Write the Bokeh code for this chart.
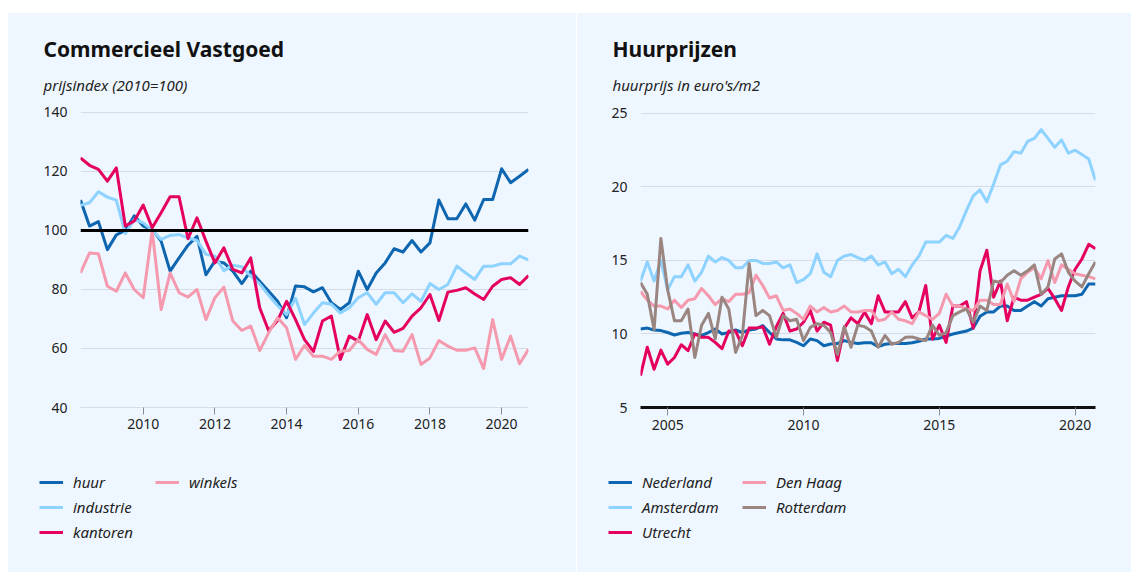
from bokeh.plotting import figure
from bokeh.models import Range1d, FixedTicker, Span, Label, Legend, LegendItem, Spacer
from bokeh.layouts import row, column
from bokeh.embed import file_html
from bokeh.resources import INLINE

BG = "#EEF7FF"
GRID = "#D5DCE4"
TXT = "#222222"
FONT = "Noto Sans"

# ---------------- Commercieel Vastgoed (quarterly, from 2008 Q2) ----------------
cv_start = (2008, 2)
huur = [110.3, 101.5, 103.0, 93.5, 98.5, 100.0, 105.0, 101.5, 100.3, 96.4,
        86.2, 90.7, 95.0, 98.0, 85.0, 89.6, 89.0, 86.2, 82.0, 86.2,
        82.8, 79.4, 76.0, 70.4, 81.2, 80.9, 79.2, 80.6, 75.5, 73.2,
        75.5, 86.2, 80.0, 85.6, 89.0, 93.8, 92.7, 96.6, 92.7, 95.8,
        110.3, 104.0, 104.0, 109.0, 103.5, 110.5, 110.5, 120.9, 116.2, 118.4,
        120.7]
industrie = [108.5, 109.4, 113.1, 111.3, 110.3, 98.9, 103.7, 102.6, 100.0, 97.0,
             98.3, 98.6, 97.5, 96.6, 91.9, 91.3, 86.4, 88.2, 87.7, 84.5,
             81.9, 78.0, 74.5, 71.5, 77.0, 68.1, 72.0, 75.5, 75.0, 72.0,
             73.8, 77.2, 78.9, 75.0, 78.9, 78.9, 75.5, 78.5, 76.0, 82.0,
             80.0, 81.7, 87.9, 85.6, 83.4, 87.9, 87.9, 88.7, 88.7, 91.3,
             90.0]
kantoren = [124.6, 122.1, 120.7, 116.7, 121.2, 101.5, 103.2, 108.6, 100.9, 106.0,
            111.4, 111.4, 97.2, 104.3, 96.4, 89.0, 94.1, 86.8, 85.6, 90.7,
            73.8, 66.0, 69.5, 76.0, 69.8, 63.0, 59.0, 69.3, 71.0, 56.3,
            64.2, 62.5, 71.5, 63.0, 69.3, 65.5, 66.8, 71.0, 73.8, 78.3,
            69.5, 79.1, 79.7, 80.6, 78.5, 76.6, 81.1, 83.4, 84.0, 81.7,
            84.7]
winkels = [85.6, 92.4, 92.1, 81.1, 79.4, 85.6, 80.0, 77.2, 100.0, 73.2,
           85.6, 78.9, 77.4, 80.0, 69.8, 77.2, 80.8, 69.3, 66.1, 67.6,
           59.3, 65.3, 70.4, 67.0, 56.3, 61.0, 57.4, 57.4, 56.3, 59.1,
           59.3, 63.0, 59.7, 58.0, 64.7, 59.3, 59.1, 64.7, 54.6, 56.8,
           62.7, 60.8, 59.4, 59.4, 60.2, 53.2, 69.8, 56.3, 64.2, 54.8,
           59.7]
cv_names = ["huur", "industrie", "kantoren", "winkels"]
cv_colors = ["#0E66B0", "#8ED2FF", "#E5005F", "#F59AAE"]
cv_yticks = [40, 60, 80, 100, 120, 140]
cv_xticks = [2010, 2012, 2014, 2016, 2018, 2020]

# ---------------- Huurprijzen (quarterly, from 2004 Q1) ----------------
hp_start = (2004, 1)
nederland = [10.34, 10.4, 10.27, 10.23, 10.1, 9.93, 10.05, 10.1, 10.0, 9.9,
             10.1, 10.34, 10.0, 10.1, 10.27, 10.1, 10.27, 10.34, 10.57, 10.1,
             9.66, 9.6, 9.6, 9.43, 9.2, 9.66, 9.55, 9.2, 9.32, 9.36,
             9.55, 9.43, 9.36, 9.4, 9.4, 9.14, 9.3, 9.36, 9.36, 9.36,
             9.4, 9.5, 9.66, 9.66, 9.7, 9.85, 10.0, 10.1, 10.2, 10.4,
             11.2, 11.5, 11.5, 11.9, 11.9, 11.6, 11.6, 11.9, 12.2, 11.9,
             12.4, 12.5, 12.6, 12.6, 12.6, 12.7, 13.4, 13.4]
amsterdam = [13.6, 14.9, 13.6, 15.0, 13.0, 13.9, 13.9, 14.7, 13.6, 14.2,
             15.3, 14.9, 15.2, 15.0, 14.5, 14.5, 15.0, 15.0, 14.8, 14.8,
             14.9, 14.5, 14.7, 13.5, 13.7, 14.1, 15.45, 14.2, 13.9, 15.0,
             15.3, 15.4, 15.2, 15.0, 15.3, 14.7, 14.9, 14.1, 14.4, 13.9,
             14.7, 15.3, 16.25, 16.25, 16.25, 16.7, 16.5, 17.3, 18.4, 19.4,
             19.8, 19.0, 20.2, 21.5, 21.75, 22.4, 22.3, 23.1, 23.3, 23.9,
             23.3, 22.7, 23.2, 22.3, 22.5, 22.2, 21.9, 20.45]
utrecht = [7.16, 9.1, 7.6, 8.9, 7.95, 8.4, 9.27, 8.86, 10.0, 9.77,
           9.77, 9.43, 9.0, 10.2, 10.2, 9.2, 10.4, 10.4, 10.5, 9.3,
           10.5, 11.4, 10.2, 10.34, 10.8, 11.6, 10.2, 10.8, 10.6, 8.2,
           10.4, 11.1, 10.7, 11.5, 10.7, 12.6, 11.5, 11.5, 11.5, 12.2,
           11.1, 11.5, 13.3, 9.66, 10.6, 9.43, 11.9, 11.9, 12.2, 10.4,
           14.3, 15.7, 12.5, 13.6, 10.9, 12.5, 12.3, 12.3, 12.5, 12.7,
           13.1, 12.4, 11.6, 13.2, 14.4, 15.1, 16.1, 15.8]
den_haag = [12.9, 12.3, 11.9, 11.9, 11.7, 12.3, 11.8, 12.3, 12.4, 13.1,
            12.6, 12.0, 12.4, 12.2, 12.7, 12.7, 12.8, 14.0, 13.3, 12.45,
            12.6, 11.6, 11.7, 11.4, 11.0, 11.9, 11.5, 11.8, 11.5, 11.6,
            11.9, 11.5, 11.5, 11.6, 11.6, 10.9, 11.0, 11.5, 11.0, 10.9,
            10.7, 11.5, 11.25, 11.0, 11.4, 12.7, 11.9, 11.9, 11.7, 11.6,
            12.3, 12.3, 12.0, 12.0, 13.4, 12.2, 13.75, 14.2, 14.5, 13.75,
            15.0, 13.5, 14.7, 14.4, 14.1, 14.0, 13.9, 13.75]
rotterdam = [13.5, 12.7, 10.3, 16.5, 13.0, 10.9, 10.9, 11.7, 8.4, 10.6,
             11.4, 9.66, 12.5, 11.7, 8.75, 9.9, 14.8, 11.25, 11.6, 11.25,
             9.77, 11.25, 10.9, 11.0, 9.55, 10.45, 10.7, 10.6, 10.1, 8.6,
             10.5, 9.1, 10.6, 10.5, 10.2, 9.1, 9.9, 9.3, 9.43, 9.77,
             9.8, 9.66, 9.55, 10.6, 9.9, 10.1, 11.25, 11.5, 11.7, 10.8,
             11.9, 11.6, 13.6, 13.5, 14.0, 14.3, 14.0, 14.3, 14.7, 12.7,
             13.2, 15.1, 15.45, 14.2, 13.6, 13.2, 14.1, 14.9]
hp_names = ["Nederland", "Amsterdam", "Utrecht", "Den Haag", "Rotterdam"]
hp_colors = ["#0E66B0", "#8ED2FF", "#E5005F", "#F59AAE", "#9A8580"]
hp_yticks = [5, 10, 15, 20, 25]
hp_xticks = [2005, 2010, 2015, 2020]

HEAD_H = 84
MAIN_H = 365
LEG_H = 110


def quarter_positions(start, n):
    y, q = start
    out = []
    for k in range(n):
        qq = q - 1 + k
        out.append(y + qq // 4 + (qq % 4) / 4)
    return out


def blank_fig(width, height, xr, yr):
    p = figure(width=width, height=height, x_range=xr, y_range=yr,
               x_axis_type=None, y_axis_type=None,
               output_backend="svg", toolbar_location=None,
               min_border=0, min_border_left=0, min_border_right=0,
               min_border_top=0, min_border_bottom=0)
    p.frame_align = False
    p.background_fill_color = BG
    p.border_fill_color = BG
    p.outline_line_color = None
    p.grid.visible = False
    return p


def header(width, title, subtitle):
    h = blank_fig(width, HEAD_H, Range1d(0, width), Range1d(HEAD_H, 0))
    h.add_layout(Label(x=35, y=35, text=title, text_font=FONT, text_font_size="21px",
                       text_font_style="bold", text_color="#111111",
                       text_baseline="middle"))
    h.add_layout(Label(x=35, y=71, text=subtitle, text_font=FONT, text_font_size="15px",
                       text_font_style="italic", text_color=TXT,
                       text_baseline="middle"))
    return h


def legend_fig(width, xs, series, names, colors, label_w):
    # the series are drawn far outside this strip's ranges: only their legend swatches show
    lf = blank_fig(width, LEG_H, Range1d(0, 1), Range1d(0, 1))
    items = []
    for vals, name, col in zip(series, names, colors):
        r = lf.line(xs, vals, line_color=col, line_width=3)
        items.append(LegendItem(label=name, renderers=[r]))
    leg = Legend(items=items, location=(31, LEG_H - 10 - 70), orientation="vertical", nrows=3,
                 glyph_width=24, glyph_height=20, label_height=20, label_width=label_w,
                 label_standoff=10, spacing=5, padding=0, margin=0,
                 border_line_color=None, background_fill_alpha=0,
                 label_text_font=FONT, label_text_font_size="15px",
                 label_text_font_style="italic", label_text_color=TXT)
    lf.add_layout(leg, "center")
    return lf


def main_fig(width, xr, yr, left, right, top, frame_h):
    p = figure(width=width, height=MAIN_H, x_range=xr, y_range=yr,
               output_backend="svg", toolbar_location=None,
               min_border_left=left, min_border_right=right,
               min_border_top=top, min_border_bottom=MAIN_H - top - frame_h)
    p.frame_align = False
    p.background_fill_color = BG
    p.border_fill_color = BG
    p.outline_line_color = None
    p.xgrid.grid_line_color = None
    p.ygrid.grid_line_color = GRID
    p.ygrid.grid_line_width = 1
    for ax in (p.xaxis[0], p.yaxis[0]):
        ax.major_label_text_font = FONT
        ax.major_label_text_font_size = "14px"
        ax.major_label_text_color = TXT
        ax.minor_tick_line_color = None
    p.yaxis.axis_line_color = None
    p.yaxis.major_tick_line_color = None
    p.yaxis.major_tick_out = 0
    p.yaxis.major_tick_in = 0
    p.yaxis.major_label_standoff = 13
    p.xaxis.major_tick_in = 0
    p.xaxis.major_tick_line_color = "#8A8F96"
    return p


# ---------- left panel ----------
cv_series = [huur, industrie, kantoren, winkels]
cv_x = quarter_positions(cv_start, len(huur))
p1 = main_fig(568, Range1d(cv_x[0], cv_x[-1]), Range1d(40, 141), 72, 48, 12, 298)
p1.yaxis.ticker = FixedTicker(ticks=cv_yticks)
p1.xaxis.ticker = FixedTicker(ticks=cv_xticks)
p1.xaxis.axis_line_color = GRID
p1.xaxis.major_tick_out = 7
p1.xaxis.major_label_standoff = 4
p1.add_layout(Span(location=100, dimension="width", line_color="black", line_width=3))
for vals, col in zip(cv_series, cv_colors):
    p1.line(cv_x, vals, line_color=col, line_width=3, line_join="round")
h1 = header(568, "Commercieel Vastgoed", "prijsindex (2010=100)")
l1 = legend_fig(568, cv_x, cv_series, cv_names, cv_colors, 77)

# ---------- right panel ----------
hp_series = [nederland, amsterdam, utrecht, den_haag, rotterdam]
hp_x = quarter_positions(hp_start, len(nederland))
p2 = main_fig(554, Range1d(hp_x[0], hp_x[-1]), Range1d(5, 25.2), 63, 36, 13, 297)
p2.yaxis.ticker = FixedTicker(ticks=hp_yticks)
p2.xaxis.ticker = FixedTicker(ticks=hp_xticks)
p2.xaxis.axis_line_color = "#111111"
p2.xaxis.axis_line_width = 3
p2.xaxis.major_tick_out = 8
p2.xaxis.major_label_standoff = 4
for vals, col in zip(hp_series, hp_colors):
    p2.line(hp_x, vals, line_color=col, line_width=3, line_join="round")
h2 = header(554, "Huurprijzen", "huurprijs in euro's/m2")
l2 = legend_fig(554, hp_x, hp_series, hp_names, hp_colors, 95)

panel1 = column(h1, p1, l1, styles={"background-color": BG})
panel2 = column(h2, p2, l2, styles={"background-color": BG})
layout = row(Spacer(width=8),
             column(Spacer(height=13), panel1),
             Spacer(width=1),
             column(Spacer(height=13), panel2))
open("out.html", "w").write(file_html(layout, INLINE))
